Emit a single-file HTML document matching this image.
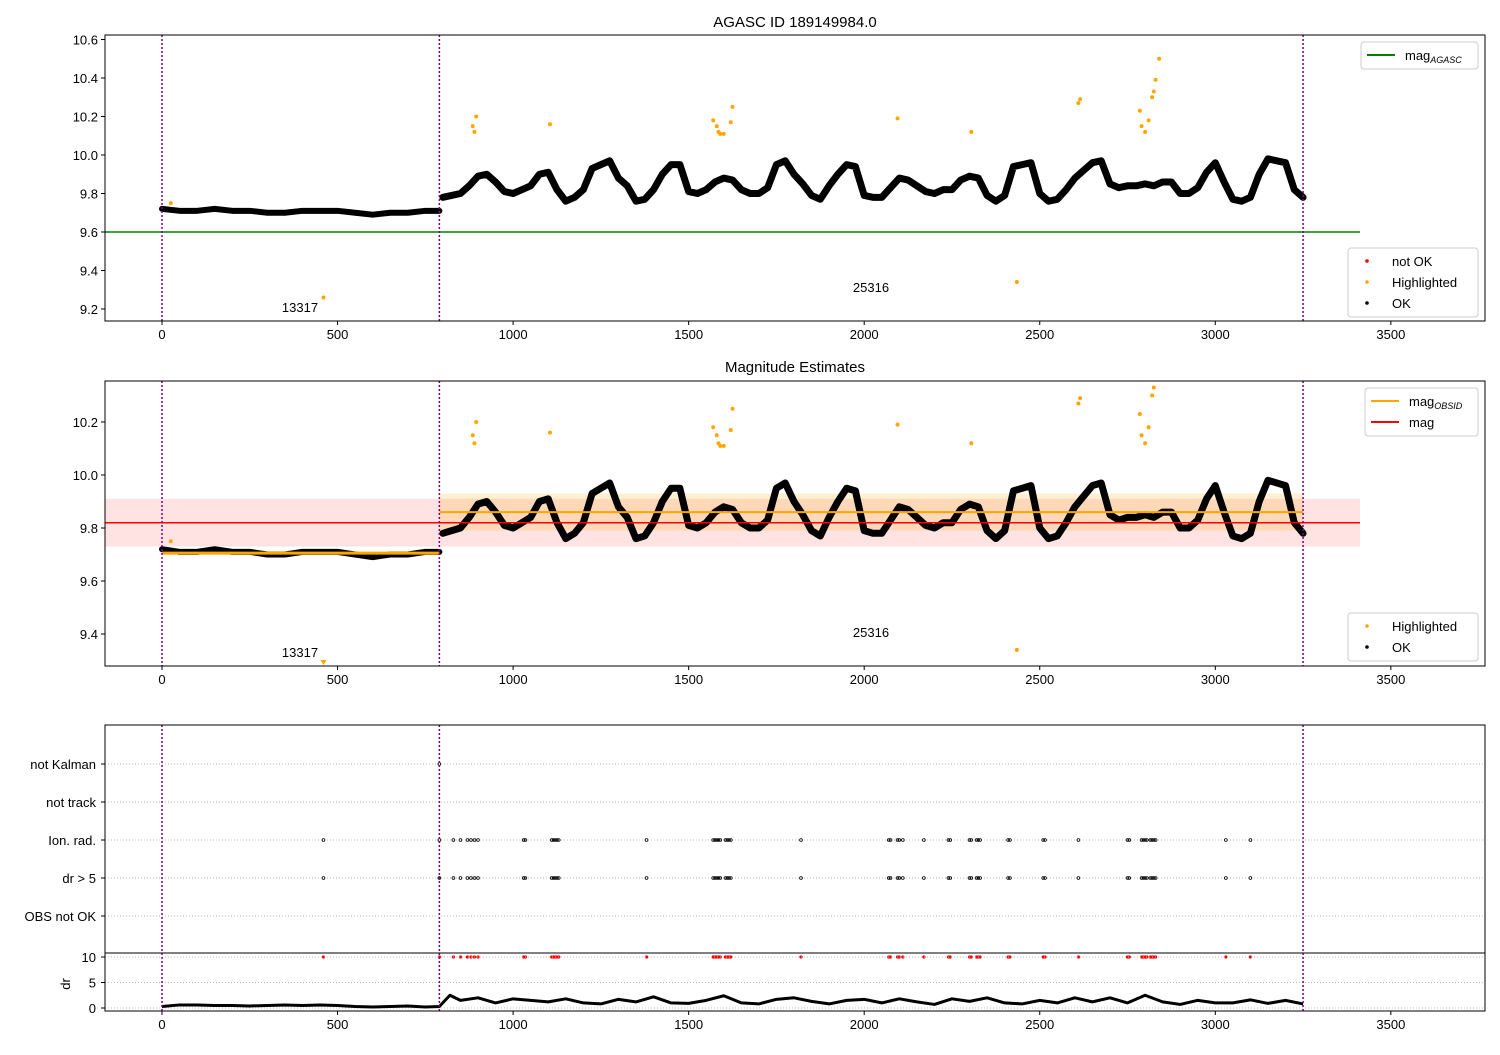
<!DOCTYPE html>
<html><head><meta charset="utf-8"><style>
body{margin:0;background:#fff}
svg{font-family:"Liberation Sans","DejaVu Sans",sans-serif;font-size:13px}
</style></head><body>
<svg id="c" width="1500" height="1050" xmlns="http://www.w3.org/2000/svg">
<defs>
<clipPath id="clipTop"><rect x="105" y="35" width="1380" height="286"/></clipPath>
<clipPath id="clipMid"><rect x="105" y="381" width="1380" height="285"/></clipPath>
</defs>
</svg>
<script>
// ---- data ----
const seg1Times=[0,50,100,150,200,250,300,350,400,450,500,550,600,650,700,750,790];
const seg1Mags=[9.72,9.71,9.71,9.72,9.71,9.71,9.70,9.70,9.71,9.71,9.71,9.70,9.69,9.70,9.70,9.71,9.71];
const seg2Start=800, seg2Step=25;
const seg2Mags=[9.78,9.79,9.80,9.84,9.89,9.90,9.86,9.81,9.80,9.82,9.84,9.90,9.91,9.82,9.76,9.78,9.82,9.93,9.95,9.97,9.88,9.84,9.76,9.77,9.82,9.90,9.95,9.95,9.81,9.80,9.82,9.86,9.88,9.87,9.82,9.80,9.80,9.83,9.95,9.97,9.90,9.85,9.79,9.77,9.84,9.90,9.95,9.94,9.79,9.78,9.78,9.83,9.88,9.87,9.84,9.81,9.80,9.82,9.82,9.87,9.89,9.88,9.79,9.76,9.79,9.94,9.95,9.96,9.80,9.76,9.77,9.82,9.88,9.92,9.96,9.97,9.85,9.83,9.84,9.84,9.85,9.84,9.86,9.86,9.80,9.80,9.83,9.91,9.96,9.86,9.77,9.76,9.78,9.90,9.98,9.97,9.96,9.82,9.78];
const hlTimes=[25,460,885,890,895,1105,1570,1580,1585,1590,1600,1620,1625,2095,2305,2435,2610,2615,2785,2790,2800,2810,2820,2825,2830,2840];
const hlMags=[9.75,9.26,10.15,10.12,10.2,10.16,10.18,10.15,10.12,10.11,10.11,10.17,10.25,10.19,10.12,9.34,10.27,10.29,10.23,10.15,10.12,10.18,10.3,10.33,10.39,10.5];
const flagTimes=[460,790,830,850,870,880,890,900,1030,1035,1110,1115,1120,1125,1130,1380,1570,1575,1580,1585,1590,1605,1610,1615,1620,1820,2070,2075,2095,2100,2110,2170,2240,2245,2300,2305,2320,2325,2330,2410,2415,2510,2515,2610,2750,2755,2790,2795,2800,2805,2815,2820,2825,2830,3030,3100];
const drTimes=[0,50,100,150,200,250,300,350,400,450,500,550,600,650,700,750,790,820,850,900,950,1000,1050,1100,1150,1200,1250,1300,1350,1400,1450,1500,1550,1600,1650,1700,1750,1800,1850,1900,1950,2000,2050,2100,2150,2200,2250,2300,2350,2400,2450,2500,2550,2600,2650,2700,2750,2800,2850,2900,2950,3000,3050,3100,3150,3200,3250];
const drVals=[0.3,0.6,0.6,0.5,0.5,0.4,0.5,0.6,0.5,0.6,0.5,0.3,0.2,0.3,0.4,0.2,0.3,2.5,1.5,2.0,1.0,1.8,1.5,1.2,1.8,1.0,0.8,1.7,1.2,2.2,1.0,0.9,1.5,2.4,1.0,0.8,1.7,2.0,1.3,0.8,1.5,1.7,1.0,1.8,1.2,0.7,1.8,1.3,2.0,1.0,0.8,1.5,1.0,2.0,1.2,2.0,1.0,2.5,1.2,0.7,1.5,1.0,1.0,1.6,0.9,1.5,0.8];
const xTicks=[0,500,1000,1500,2000,2500,3000,3500];
const topTicks=[9.2,9.4,9.6,9.8,10.0,10.2,10.4,10.6];
const midTicks=[9.4,9.6,9.8,10.0,10.2];
const catLabels=["not Kalman","not track","Ion. rad.","dr > 5","OBS not OK"];
const drTicks=[0,5,10];
// ---- helpers ----
const S=document.getElementById('c');const NS='http://www.w3.org/2000/svg';
function el(t,a,p){const e=document.createElementNS(NS,t);for(const k in a)e.setAttribute(k,a[k]);(p||S).appendChild(e);return e;}
const X=t=>162+t*0.3511;
const L=105,R=1485;
const yTop=m=>232-(m-9.6)*192.5;
const yMid=m=>634-(m-9.4)*265;
const catY=[764,802,840,878,916];
const yDr=d=>1008-d*5.1;
function txt(x,y,s,anchor,size,name){const t=el('text',{x:x,y:y,'text-anchor':anchor||'middle','font-size':size||13,fill:'#000'});t.textContent=s;return t;}
function frame(y0,y1,name){const r=el('rect',{x:L,y:y0,width:R-L,height:y1-y0,fill:'none',stroke:'#000','stroke-width':1});}
function xAxis(yb,name){const g=el('g',{});
 xTicks.forEach(v=>{el('line',{x1:X(v),x2:X(v),y1:yb,y2:yb+4,stroke:'#000'},g);const t=txt(X(v),yb+18,String(v),'middle',13,'x-tick-label');g.appendChild(t);});}
function vlines(y0,y1){[0,790,3250].forEach(t=>{const l=el('line',{x1:X(t),x2:X(t),y1:y0,y2:y1,stroke:'#800080','stroke-width':1.5,'stroke-dasharray':'2,2'});});}
function cloud(yf,g){
 const pts1=seg1Times.map((t,i)=>X(t)+','+yf(seg1Mags[i])).join(' ');
 const p1=el('polyline',{points:pts1,fill:'none',stroke:'#000','stroke-width':6,'stroke-linejoin':'round','stroke-linecap':'round'},g);
 
 const pts2=seg2Mags.map((m,i)=>X(seg2Start+i*seg2Step)+','+yf(m)).join(' ');
 const p2=el('polyline',{points:pts2,fill:'none',stroke:'#000','stroke-width':7,'stroke-linejoin':'round','stroke-linecap':'round'},g);
 
 hlTimes.forEach((t,i)=>{const c=el('circle',{cx:X(t),cy:yf(hlMags[i]),r:2,fill:'orange'},g);});
}
function legend(x,y,w,items,name){const g=el('g',{});
 el('rect',{x:x,y:y,width:w,height:items.length*21+6,fill:'#fff',stroke:'#ccc',rx:3},g);
 items.forEach((it,i)=>{const cy=y+13+i*21;
  if(it.type==='line')el('line',{x1:x+6,x2:x+34,y1:cy,y2:cy,stroke:it.c,'stroke-width':2},g);
  else el('circle',{cx:x+19,cy:cy,r:1.8,fill:it.c},g);
  const t=txt(x+44,cy+5,'','start',13,'legend-entry');t.innerHTML=it.t;g.appendChild(t);});}
// ---- top panel ----
txt(795,27,'AGASC ID 189149984.0','middle',15,'top-title');
const gTop=el('g',{'clip-path':'url(#clipTop)'});
const gl=el('line',{x1:L,x2:1360,y1:yTop(9.6),y2:yTop(9.6),stroke:'green','stroke-width':1.5});
cloud(yTop,gTop);
vlines(35,321);frame(35,321,'top-axes');xAxis(321,'top-x-axis');
topTicks.forEach(v=>{el('line',{x1:L-4,x2:L,y1:yTop(v),y2:yTop(v),stroke:'#000'});txt(L-7,yTop(v)+5,v.toFixed(1),'end',13,'y-tick-label');});
txt(300,312,'13317','middle',13,'obsid-label');txt(871,292,'25316','middle',13,'obsid-label');
legend(1361,42,117,[{type:'line',c:'green',t:'mag<tspan font-size="9" font-style="italic" dy="3">AGASC</tspan>'}],'top-legend-line');
legend(1348,248,130,[{c:'red',t:'not OK'},{c:'orange',t:'Highlighted'},{c:'#000',t:'OK'}],'top-legend-points');
// ---- middle panel ----
txt(795,372,'Magnitude Estimates','middle',15,'middle-title');
const band=el('rect',{x:L,y:yMid(9.91),width:1360-L,height:yMid(9.73)-yMid(9.91),fill:'rgba(255,0,0,0.11)'});
const ob=el('rect',{x:X(790),y:yMid(9.93),width:X(3250)-X(790),height:yMid(9.79)-yMid(9.93),fill:'rgba(255,165,0,0.18)'});
const gMid=el('g',{'clip-path':'url(#clipMid)'});
cloud(yMid,gMid);
const ol1=el('line',{x1:X(0),x2:X(790),y1:yMid(9.705),y2:yMid(9.705),stroke:'orange','stroke-width':3});
const ol2=el('line',{x1:X(790),x2:X(3250),y1:yMid(9.86),y2:yMid(9.86),stroke:'orange','stroke-width':2});
const rl=el('line',{x1:L,x2:1360,y1:yMid(9.82),y2:yMid(9.82),stroke:'red','stroke-width':1.5});
el('path',{d:`M${X(460)-3},660 L${X(460)+3},660 L${X(460)},665 Z`,fill:'orange'});
vlines(381,666);frame(381,666,'middle-axes');xAxis(666,'middle-x-axis');
midTicks.forEach(v=>{el('line',{x1:L-4,x2:L,y1:yMid(v),y2:yMid(v),stroke:'#000'});txt(L-7,yMid(v)+5,v.toFixed(1),'end',13,'y-tick-label');});
txt(300,657,'13317','middle',13,'obsid-label');txt(871,637,'25316','middle',13,'obsid-label');
legend(1365,388,113,[{type:'line',c:'orange',t:'mag<tspan font-size="9" font-style="italic" dy="3">OBSID</tspan>'},{type:'line',c:'red',t:'mag'}],'middle-legend-line');
legend(1348,613,130,[{c:'orange',t:'Highlighted'},{c:'#000',t:'OK'}],'middle-legend-points');
// ---- flags panel ----
catY.forEach((y,i)=>{el('line',{x1:L,x2:R,y1:y,y2:y,stroke:'#bbb','stroke-dasharray':'1,2'});el('line',{x1:L-4,x2:L,y1:y,y2:y,stroke:'#000'});txt(L-9,y+5,catLabels[i],'end',13,'category-label');});
flagTimes.forEach(t=>{[2,3].forEach(ci=>{const c=el('circle',{cx:X(t),cy:catY[ci],r:1.4,fill:'none',stroke:'#000','stroke-width':0.8});});
 const r=el('circle',{cx:X(t),cy:yDr(10),r:1.6,fill:'red'});});
el('circle',{cx:X(790),cy:catY[0],r:1.4,fill:'none',stroke:'#000','stroke-width':0.8});
drTicks.forEach(v=>{el('line',{x1:L,x2:R,y1:yDr(v),y2:yDr(v),stroke:'#bbb','stroke-dasharray':'1,2'});el('line',{x1:L-4,x2:L,y1:yDr(v),y2:yDr(v),stroke:'#000'});txt(L-9,yDr(v)+5,String(v),'end',13,'dr-tick-label');});
const drl=el('polyline',{points:drTimes.map((t,i)=>X(t)+','+yDr(drVals[i])).join(' '),fill:'none',stroke:'#000','stroke-width':3,'stroke-linejoin':'round'});

const dl=txt(70,984,'dr','middle',13,'dr-axis-title');dl.setAttribute('transform','rotate(-90 70 984)');
vlines(725,1011);frame(725,953,'flags-axes');frame(953,1011,'dr-axes');xAxis(1011,'bottom-x-axis');
</script>
</body></html>
